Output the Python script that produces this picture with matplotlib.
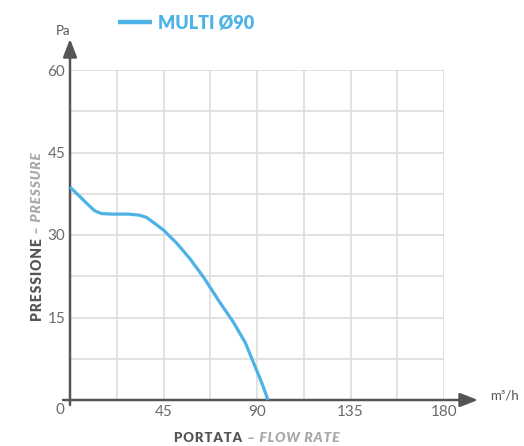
import numpy as np
import matplotlib
matplotlib.use("Agg")
import matplotlib.pyplot as plt

# ---- data ----
flow = [0, 3.9, 7.9, 11.9, 15.1, 19.9, 28.0, 33.6, 36.8, 40.8, 45.0, 51.4, 57.9, 64.3, 71.5, 78.7, 84.4, 88.4, 92.4, 95.3]
pressure = [38.7, 37.3, 35.8, 34.4, 33.9, 33.8, 33.8, 33.6, 33.2, 32.1, 30.9, 28.5, 25.6, 22.3, 18.1, 14.1, 10.4, 6.7, 3.0, 0]
series_name = "MULTI Ø90"
x_ticks = [45, 90, 135, 180]
y_ticks = [15, 30, 45, 60]

W, H = 524, 446
BLUE = "#4db2e6"
DARK = "#555555"
LIGHT = "#aaaaaa"
TICKC = "#6a6a6a"
FONT = "Lato"
HS = "\u200a"  # hair space for letter tracking

def track(s):
    return HS.join(s)

plt.rcParams['font.family'] = [FONT, 'DejaVu Sans']

fig = plt.figure(figsize=(W / 100, H / 100), dpi=100)

def fx(px):
    return px / W

def fy(py):
    return 1 - py / H

x0, x1 = 70, 444
y0, y1 = 400, 70
ax = fig.add_axes([fx(x0), fy(y0), fx(x1) - fx(x0), fy(y1) - fy(y0)])
ax.set_xlim(0, 180)
ax.set_ylim(0, 60)
for s in ax.spines.values():
    s.set_visible(False)

# grid
ax.set_xticks(x_ticks)
ax.set_xticklabels([str(v) for v in x_ticks])
ax.set_yticks(y_ticks)
ax.set_yticklabels([str(v) for v in y_ticks])
ax.set_xticks(np.arange(22.5, 180.1, 45), minor=True)
ax.set_yticks(np.arange(7.5, 60.1, 15), minor=True)
ax.grid(True, which='both', color='#dddddd', lw=1.2)
ax.set_axisbelow(True)
ax.tick_params(which='both', length=0)
ax.tick_params(which='major', labelsize=11, labelcolor=TICKC, pad=3.5)

line, = ax.plot(flow, pressure, color=BLUE, lw=2.3, solid_capstyle='butt',
                solid_joinstyle='round', clip_on=False, zorder=5)

# axes arrows
arrow_kw = dict(arrowstyle='-|>,head_length=0.9,head_width=0.35', color=DARK, lw=1.8,
                shrinkA=0, shrinkB=0, mutation_scale=12)
ax.annotate('', xy=(fx(478), fy(400)), xytext=(fx(63), fy(400)), xycoords='figure fraction',
            textcoords='figure fraction', arrowprops=arrow_kw, annotation_clip=False)
ax.annotate('', xy=(fx(70), fy(39)), xytext=(fx(70), fy(405)), xycoords='figure fraction',
            textcoords='figure fraction', arrowprops=arrow_kw, annotation_clip=False)

# origin label & units
fig.text(fx(60), fy(410), "0", ha='center', va='center', fontsize=11, color=TICKC)
fig.text(fx(63), fy(31), "Pa", ha='center', va='center', fontsize=9.5, color=DARK)
fig.text(fx(490), fy(396), "m³/h", ha='left', va='center', fontsize=9.5, color=DARK)

# axis titles
fig.text(fx(174), fy(438), track("PORTATA"), ha='left', va='center', fontsize=9.5, color=DARK,
         fontweight='heavy')
fig.text(fx(247), fy(438), track("– FLOW RATE"), ha='left', va='center', fontsize=10, color=LIGHT,
         fontweight='heavy', fontstyle='italic')
fig.text(fx(37), fy(321), track("PRESSIONE"), ha='center', va='bottom', rotation=90, fontsize=10,
         color=DARK, fontweight='heavy')
fig.text(fx(37), fy(234), track("– PRESSURE"), ha='center', va='bottom', rotation=90, fontsize=10,
         color=LIGHT, fontweight='heavy', fontstyle='italic')

# legend
leg = fig.legend([line], [series_name], loc='center left', bbox_to_anchor=(fx(118), fy(23)),
                 frameon=False, borderpad=0, borderaxespad=0, handlelength=1.9, handletextpad=0.3,
                 prop=dict(family=FONT, weight='heavy', size=13))
for t in leg.get_texts():
    t.set_color(BLUE)
for l in leg.get_lines():
    l.set_linewidth(3.2)

fig.savefig("out.png", dpi=100)
